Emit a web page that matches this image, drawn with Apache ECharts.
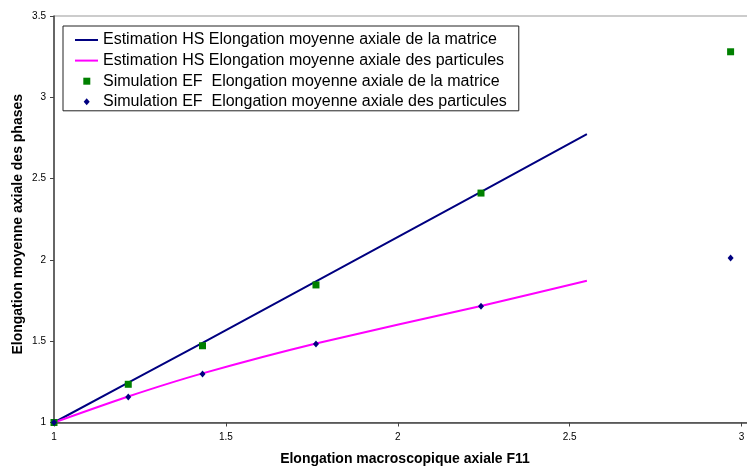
<!DOCTYPE html>
<html>
<head>
<meta charset="utf-8">
<script src="https://cdn.jsdelivr.net/npm/echarts@6/dist/echarts.min.js"></script>
<style>
  html, body { margin: 0; padding: 0; background: #fff; }
  #chart { width: 747px; height: 468px; }
</style>
</head>
<body>
<div id="chart"></div>
<script>
// Macroscopic axial elongation F11 at each simulated load step
const simX = [1, 1.216, 1.432, 1.762, 2.242, 2.968];
// FE simulation: mean axial elongation of the matrix / of the particles
const simMatrice = [1, 1.235, 1.472, 1.846, 2.411, 3.28];
const simParticules = [1, 1.157, 1.298, 1.483, 1.715, 2.012];

// HS estimate curves
const hsX = [1, 1.216, 1.432, 1.762, 2.242, 2.55];
const hsMatrice = [1, 1.245, 1.49, 1.868, 2.418, 2.774];
const hsParticules = [1, 1.16, 1.302, 1.486, 1.717, 1.872];

const legendNames = [
  'Estimation HS Elongation moyenne axiale de la matrice',
  'Estimation HS Elongation moyenne axiale des particules',
  'Simulation EF  Elongation moyenne axiale de la matrice',
  'Simulation EF  Elongation moyenne axiale des particules'
];
const xTitle = 'Elongation macroscopique axiale F11';
const yTitle = 'Elongation moyenne axiale des phases';

const pairs = (xs, ys) => xs.map((x, i) => [x, ys[i]]);

const font = 'Arial, "Liberation Sans", sans-serif';
const axisColor = '#444';

// legend keys: plain line for the estimates, small marker centred in the key box
const lineKey = 'path://M0,0M23,7M0,2.5h23v2h-23z';
const squareKey = 'path://M0,0M23,7M8.3,0h7v7h-7z';
const diamondKey = 'path://M0,0M23,7M11.7,0L14.7,3.5L11.7,7L8.7,3.5z';

const chart = echarts.init(document.getElementById('chart'), null, { renderer: 'canvas' });
chart.setOption({
  animation: false,
  backgroundColor: '#fff',
  textStyle: { fontFamily: font },
  title: {
    text: xTitle,
    left: 405,
    top: 452,
    textAlign: 'center',
    padding: 0,
    textStyle: { fontFamily: font, fontSize: 14, fontWeight: 'bold', color: '#000' }
  },
  grid: {
    left: 54,
    top: 16,
    width: 859.5,
    height: 406.5,
    containLabel: false,
    outerBoundsMode: 'none',
    show: true,
    borderColor: '#999',
    borderWidth: 1,
    backgroundColor: 'transparent'
  },
  legend: {
    orient: 'vertical',
    left: 63,
    top: 26,
    data: [
      { name: legendNames[0], icon: lineKey, itemStyle: { color: '#000080' } },
      { name: legendNames[1], icon: lineKey, itemStyle: { color: '#ff00ff' } },
      { name: legendNames[2], icon: squareKey },
      { name: legendNames[3], icon: diamondKey }
    ],
    itemWidth: 23,
    itemHeight: 7,
    itemGap: 2.6,
    padding: [5, 12, 0, 12],
    borderColor: '#222',
    borderWidth: 1,
    backgroundColor: '#fff',
    textStyle: { fontFamily: font, fontSize: 16, color: '#000', lineHeight: 18 }
  },
  xAxis: {
    type: 'value',
    min: 1,
    max: 3.5,
    interval: 0.5,
    splitLine: { show: false },
    axisLine: { show: true, lineStyle: { color: axisColor, width: 1.5 } },
    axisTick: { show: true, length: 4, lineStyle: { color: axisColor } },
    axisLabel: { fontSize: 10, color: '#000', margin: 10, fontFamily: font }
  },
  yAxis: {
    type: 'value',
    min: 1,
    max: 3.5,
    interval: 0.5,
    name: yTitle,
    nameLocation: 'middle',
    nameGap: 29,
    nameMoveOverlap: false,
    nameTextStyle: { fontFamily: font, fontSize: 14, fontWeight: 'bold', color: '#000', padding: [0, 10, 0, 0] },
    splitLine: { show: false },
    axisLine: { show: true, lineStyle: { color: axisColor, width: 1.5 } },
    axisTick: { show: true, length: 4, lineStyle: { color: axisColor } },
    axisLabel: { fontSize: 10, color: '#000', margin: 8, fontFamily: font }
  },
  series: [
    {
      name: legendNames[0],
      type: 'line',
      data: pairs(hsX, hsMatrice),
      symbol: 'none',
      lineStyle: { color: '#000080', width: 2 },
      itemStyle: { color: '#000080' },
      z: 2
    },
    {
      name: legendNames[1],
      type: 'line',
      data: pairs(hsX, hsParticules),
      smooth: 0.2,
      symbol: 'none',
      lineStyle: { color: '#ff00ff', width: 2 },
      itemStyle: { color: '#ff00ff' },
      z: 2
    },
    {
      name: legendNames[2],
      type: 'scatter',
      data: pairs(simX, simMatrice),
      symbol: 'rect',
      symbolSize: 7,
      itemStyle: { color: '#008000', opacity: 1 },
      z: 3
    },
    {
      name: legendNames[3],
      type: 'scatter',
      data: pairs(simX, simParticules),
      symbol: 'diamond',
      symbolSize: [6, 7],
      itemStyle: { color: '#000080', opacity: 1 },
      z: 4
    }
  ]
});
</script>
</body>
</html>
